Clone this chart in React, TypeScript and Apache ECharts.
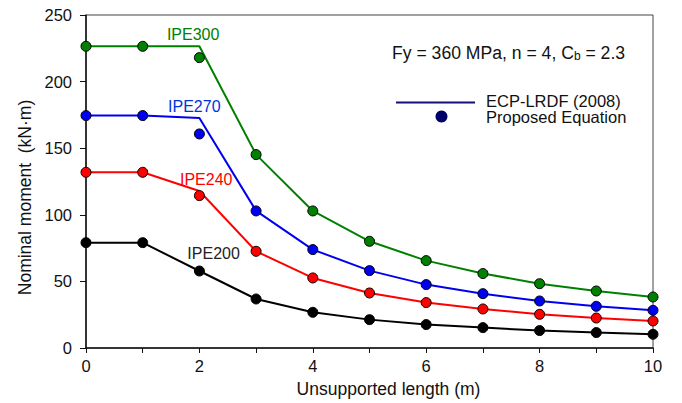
import React, { useEffect, useRef } from "react";
import * as echarts from "echarts";

const xValues = [0, 1, 2, 3, 4, 5, 6, 7, 8, 9, 10];
const sectionNames = ["IPE300", "IPE270", "IPE240", "IPE200"];
const sectionColors = ["#008000", "#0000f0", "#ff0000", "#000000"];
const labelColors = ["#008000", "#0033dd", "#ff0000", "#222222"];
// ECP-LRDF (2008) curves
const ecpIPE300 = [226.5, 226.5, 226.5, 145.2, 102.9, 80.1, 65.6, 55.9, 48.3, 42.8, 38.3];
const ecpIPE270 = [174.5, 174.5, 172.7, 102.9, 73.9, 58.1, 47.6, 40.8, 35.3, 31.3, 28.3];
const ecpIPE240 = [131.9, 131.9, 117.9, 72.6, 52.6, 41.3, 34.1, 29.3, 25.3, 22.5, 20.3];
const ecpIPE200 = [79.1, 79.1, 57.8, 36.8, 26.8, 21.3, 17.6, 15.3, 13.1, 11.6, 10.3];
// Proposed equation points
const propIPE300 = [226.5, 226.5, 218.0, 145.2, 102.9, 80.1, 65.6, 55.9, 48.3, 42.8, 38.3];
const propIPE270 = [174.5, 174.5, 160.7, 102.9, 73.9, 58.1, 47.6, 40.8, 35.3, 31.3, 28.3];
const propIPE240 = [131.9, 131.9, 114.4, 72.6, 52.6, 41.3, 34.1, 29.3, 25.3, 22.5, 20.3];
const propIPE200 = [79.1, 79.1, 57.8, 36.8, 26.8, 21.3, 17.6, 15.3, 13.1, 11.6, 10.3];
// label anchor positions (data coords)
const labelX = [1.89, 1.91, 2.12, 2.25];
const labelY = [235.5, 181.5, 126.4, 70.9];
const legendNames = ["ECP-LRDF (2008)", "Proposed Equation"];

const ecpSets = [ecpIPE300, ecpIPE270, ecpIPE240, ecpIPE200];
const propSets = [propIPE300, propIPE270, propIPE240, propIPE200];

const FONT = "'Liberation Sans', Arial, sans-serif";
const NAVY_LINE = "#10107a";
const NAVY_DOT = "#00006a";

export default function App() {
  const ref = useRef<HTMLDivElement>(null);
  useEffect(() => {
    document.body.style.margin = "0";
    const chart = echarts.init(ref.current!, null, { renderer: "svg" });
    const series: any[] = [];
    ecpSets.forEach((arr, i) => {
      series.push({
        type: "line",
        name: sectionNames[i] + " ECP",
        data: arr.map((v, k) => [xValues[k], v]),
        symbol: "none",
        lineStyle: { color: sectionColors[i], width: 2 },
        itemStyle: { color: sectionColors[i] },
        z: 2,
        markPoint: {
          symbol: "circle",
          symbolSize: 0,
          data: [{ name: sectionNames[i], coord: [labelX[i], labelY[i]] }],
          label: {
            show: true,
            position: "inside",
            formatter: "{b}",
            color: labelColors[i],
            fontSize: 16,
            fontFamily: FONT,
          },
        },
      });
    });
    propSets.forEach((arr, i) => {
      series.push({
        type: "scatter",
        name: sectionNames[i] + " Prop",
        data: arr.map((v, k) => [xValues[k], v]),
        symbol: "circle",
        symbolSize: 10,
        itemStyle: { color: sectionColors[i], borderColor: "#000", borderWidth: 1, opacity: 1 },
        z: 3,
      });
    });

    const legendFont = { fontSize: 16.5, fontFamily: FONT, fill: "#111" };

    chart.setOption({
      animation: false,
      backgroundColor: "#ffffff",
      textStyle: { fontFamily: FONT },
      title: {
        left: 387,
        top: 35,
        text: "{a|Fy = 360 MPa, n = 4, C}{s|b}{a| = 2.3}",
        textStyle: {
          fontWeight: "normal",
          rich: {
            a: { fontSize: 17.6, fontWeight: "normal", color: "#111", fontFamily: FONT, lineHeight: 22, verticalAlign: "bottom" },
            s: { fontSize: 12, fontWeight: "normal", color: "#111", fontFamily: FONT, lineHeight: 16, verticalAlign: "bottom" },
          },
        },
      },
      graphic: [
        {
          type: "line",
          shape: { x1: 396, y1: 102.5, x2: 475, y2: 102.5 },
          style: { stroke: NAVY_LINE, lineWidth: 2 },
        },
        {
          type: "circle",
          shape: { cx: 441.5, cy: 116.5, r: 6 },
          style: { fill: NAVY_DOT },
        },
        {
          type: "text",
          x: 486,
          y: 100.5,
          style: { text: legendNames[0], ...legendFont, verticalAlign: "middle" },
        },
        {
          type: "text",
          x: 486,
          y: 117,
          style: { text: legendNames[1], ...legendFont, verticalAlign: "middle" },
        },
      ],
      grid: {
        left: 86,
        right: 29,
        top: 15,
        bottom: 55,
        show: true,
        borderColor: "#444",
        borderWidth: 1,
        containLabel: false,
      },
      xAxis: {
        type: "value",
        min: 0,
        max: 10,
        interval: 1,
        name: "Unsupported length (m)",
        nameLocation: "middle",
        nameGap: 32,
        nameTextStyle: { fontSize: 17.5, color: "#111", fontFamily: FONT, padding: [0, 0, 0, 38] },
        axisLine: { lineStyle: { color: "#111", width: 1.5 } },
        axisTick: { show: true, length: 5, inside: false, lineStyle: { color: "#111" } },
        axisLabel: {
          fontSize: 16.5,
          color: "#111",
          fontFamily: FONT,
          margin: 9,
          formatter: (v: number) => (v % 2 === 0 ? String(v) : ""),
        },
        splitLine: { show: false },
      },
      yAxis: {
        type: "value",
        min: 0,
        max: 250,
        interval: 50,
        name: "Nominal moment  (kN·m)",
        nameLocation: "middle",
        nameGap: 52,
        nameTextStyle: { fontSize: 17.5, color: "#111", fontFamily: FONT, padding: [0, 32, 0, 0] },
        axisLine: { show: true, lineStyle: { color: "#111", width: 1.5 } },
        axisTick: { show: true, length: 6, inside: false, lineStyle: { color: "#111" } },
        axisLabel: { fontSize: 16.5, color: "#111", fontFamily: FONT, margin: 14 },
        splitLine: { show: false },
      },
      series,
    });
    return () => chart.dispose();
  }, []);
  return <div ref={ref} style={{ width: 682, height: 403 }} />;
}
